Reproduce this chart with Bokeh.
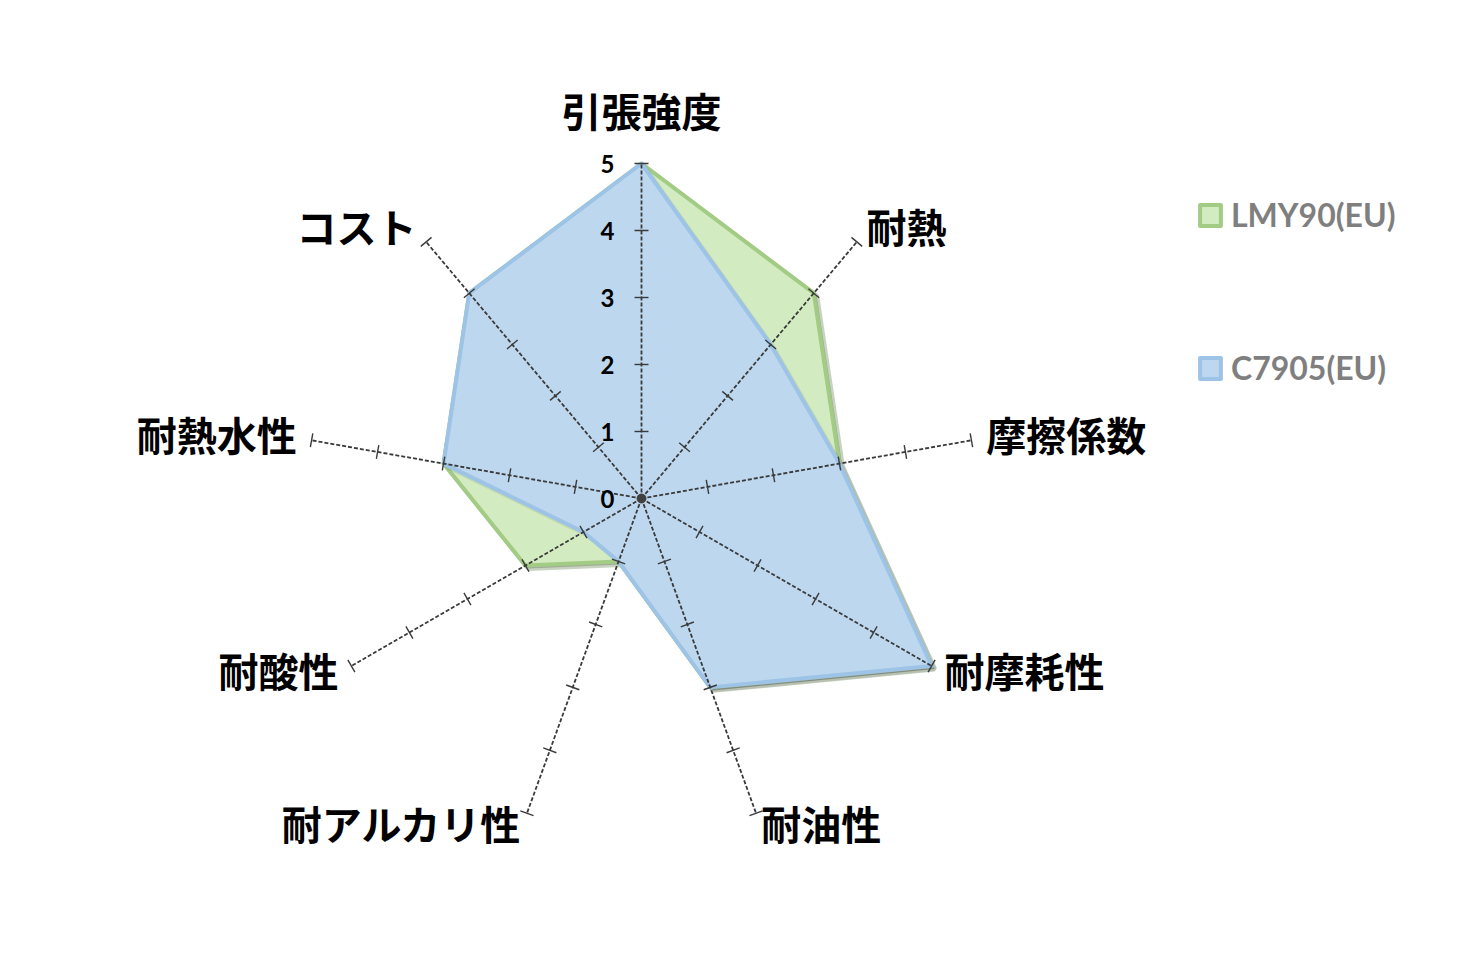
import numpy as np
from bokeh.plotting import figure
from bokeh.models import Range1d, ColumnDataSource, Legend, LegendItem
from bokeh.embed import file_html
from bokeh.resources import INLINE
from bokeh.core.properties import value

# ---- data ----
categories = ["引張強度", "耐熱", "摩擦係数", "耐摩耗性", "耐油性",
              "耐アルカリ性", "耐酸性", "耐熱水性", "コスト"]
lmy90 = [5, 4, 3, 5, 3, 1, 2, 3, 4]
c7905 = [5, 3, 3, 5, 3, 1, 1, 3, 4]
series_names = ["LMY90(EU)", "C7905(EU)"]
scale_ticks = [0, 1, 2, 3, 4, 5]
r_max = 5

# ---- geometry ----
W, H = 1440, 920
cx, cy = 641, 498          # centre of the radar in frame pixels (from top-left)
S = 67.0                   # pixels per value unit
px = 1.0 / S

p = figure(width=W, height=H,
           x_range=Range1d(-cx / S, (W - cx) / S),
           y_range=Range1d(-(H - cy) / S, cy / S),
           output_backend="svg", toolbar_location=None, min_border=0)
p.axis.visible = False
p.grid.visible = False
p.outline_line_color = None
p.background_fill_color = "white"
p.border_fill_color = "white"

n = len(categories)
ang = np.deg2rad(90 - 360.0 / n * np.arange(n))
cs, sn = np.cos(ang), np.sin(ang)


def poly(vals):
    v = np.array(vals, dtype=float)
    return list(v * cs), list(v * sn)


gx, gy = poly(lmy90)
bx, by = poly(c7905)
off = 3 * px

# shadows
p.patch([x + off for x in gx], [y - off for y in gy], fill_color="black",
        fill_alpha=0.22, line_color="#4a6b33", line_alpha=0.3, line_width=5)
green = p.patch(gx, gy, fill_color="#d3ebc1", line_color="#a2cc84",
                line_width=4, line_join="round")
p.patch([x + off for x in bx], [y - off for y in by], fill_color="black",
        fill_alpha=0.10, line_color="black", line_alpha=0.08, line_width=4)
blue = p.patch(bx, by, fill_color="#bdd7ee", line_color="#9dc3e6",
               line_width=4, line_join="round")

# radial axes
axis_src = ColumnDataSource(dict(x0=[0.0] * n, y0=[0.0] * n,
                                 x1=list(r_max * cs), y1=list(r_max * sn)))
p.segment("x0", "y0", "x1", "y1", source=axis_src, line_color="#3a3a3a",
          line_width=1.8, line_dash="4 2")

# tick marks on each axis
hl = 7 * px
tx0, ty0, tx1, ty1 = [], [], [], []
for i in range(n):
    for k in scale_ticks[1:]:
        mx, my = k * cs[i], k * sn[i]
        dx, dy = -sn[i] * hl, cs[i] * hl
        tx0.append(mx - dx); ty0.append(my - dy)
        tx1.append(mx + dx); ty1.append(my + dy)
p.segment(tx0, ty0, tx1, ty1, line_color="#3a3a3a", line_width=1.4)

p.scatter([0], [0], size=9, color="#404040")

# value labels on the vertical axis
p.text(x=[-34 * px] * len(scale_ticks), y=scale_ticks,
       text=[str(t) for t in scale_ticks], text_align="center",
       text_baseline="middle", text_font=value("Lato"),
       text_font_style="bold", text_font_size="24px", text_color="black")

# category labels
lx, ly, la = [], [], []
for i in range(n):
    if abs(cs[i]) < 0.1:
        pad = 50 * px
        la.append("center")
    else:
        pad = 15 * px
        la.append("left" if cs[i] > 0 else "right")
    lx.append(r_max * cs[i] + pad * cs[i])
    ly.append(r_max * sn[i] + pad * sn[i] + 4 * px)
lab_src = ColumnDataSource(dict(x=lx, y=ly, t=categories, a=la))
p.text(x="x", y="y", text="t", text_align="a", source=lab_src,
       text_baseline="middle", text_font=value("Noto Sans CJK JP"),
       text_font_style="bold", text_font_size="40px", text_color="black")

# legend
legend = Legend(items=[LegendItem(label=series_names[0], renderers=[green]),
                       LegendItem(label=series_names[1], renderers=[blue])],
                location=(1197, 533), orientation="vertical",
                glyph_width=26, glyph_height=26, label_standoff=8,
                spacing=114, padding=0, margin=0,
                border_line_color=None, background_fill_alpha=0,
                label_text_font="Lato", label_text_font_style="bold",
                label_text_font_size="32px", label_text_color="#7f7f7f")
p.add_layout(legend)

open("out.html", "w").write(file_html(p, INLINE))
